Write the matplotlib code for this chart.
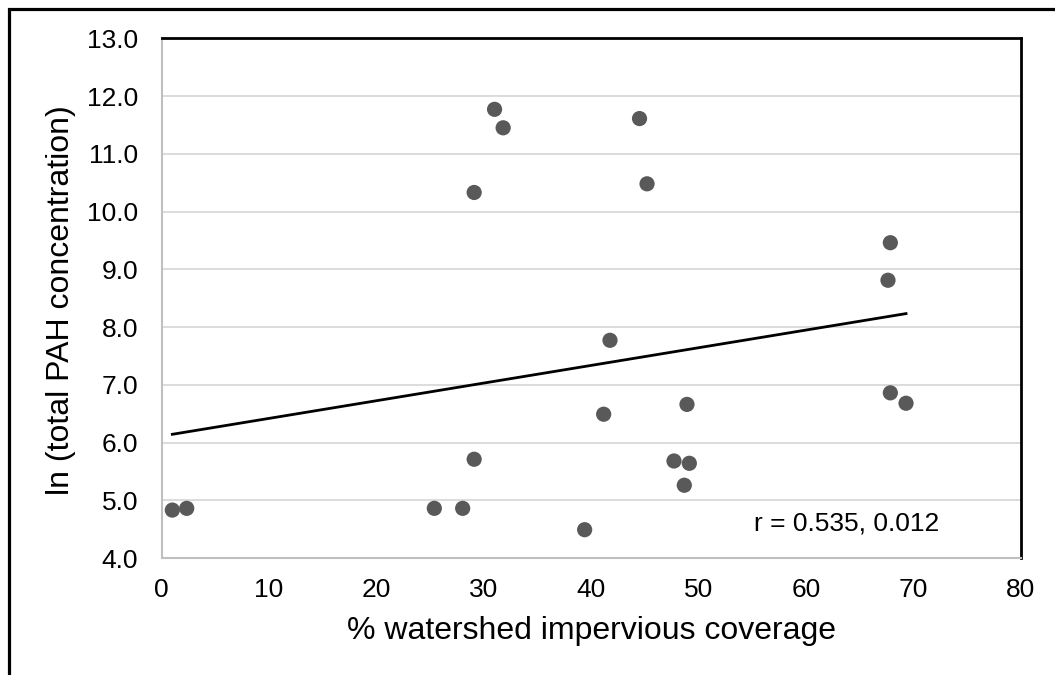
import numpy as np
import matplotlib
matplotlib.use("Agg")
import matplotlib.pyplot as plt
from matplotlib.patches import Rectangle

plt.rcParams['font.family'] = ['Liberation Sans', 'DejaVu Sans']

# Data
impervious_pct = [0.99, 2.33, 25.39, 28.03, 29.1, 29.1, 31.0, 31.8, 44.5, 45.2,
                  41.75, 41.16, 48.92, 47.71, 49.14, 48.67, 39.39, 67.86, 67.64,
                  67.86, 69.32]
ln_pah = [4.83, 4.86, 4.86, 4.86, 5.71, 10.33, 11.77, 11.45, 11.61, 10.48,
          7.77, 6.49, 6.66, 5.68, 5.64, 5.26, 4.49, 9.46, 8.81, 6.86, 6.68]
y_ticks = [4.0, 5.0, 6.0, 7.0, 8.0, 9.0, 10.0, 11.0, 12.0, 13.0]
x_ticks = [0, 10, 20, 30, 40, 50, 60, 70, 80]
stat_label = "r = 0.535, 0.012"

x = np.array(impervious_pct)
y = np.array(ln_pah)

fig = plt.figure(figsize=(10.55, 6.75), dpi=100)
ax = fig.add_axes([161.7 / 1055, 117 / 675, 859 / 1055, 519.7 / 675])

ax.set_xlim(0, 80)
ax.set_ylim(4, 13)
ax.set_xticks(x_ticks)
ax.set_yticks(y_ticks)
ax.set_yticklabels([f"{v:.1f}" for v in y_ticks])
ax.tick_params(axis='both', length=0, labelsize=19, colors='black')
ax.tick_params(axis='x', pad=14.5)
ax.tick_params(axis='y', pad=17)

ax.grid(axis='y', color='#d9d9d9', linewidth=1.3)
ax.set_axisbelow(True)

for side in ['left', 'bottom']:
    ax.spines[side].set_color('#bfbfbf')
    ax.spines[side].set_linewidth(1.5)
for side in ['top', 'right']:
    ax.spines[side].set_color('black')
    ax.spines[side].set_linewidth(2.0)

ax.scatter(x, y, s=120, color='#595959', edgecolors='none', zorder=3)

# linear trend line across the data range
slope, intercept = np.polyfit(x, y, 1)
xl = np.array([x.min(), x.max()])
ax.plot(xl, slope * xl + intercept, color='black', linewidth=2.0, zorder=2)

ax.text(55.16, 4.59, stat_label, fontsize=19, ha='left', va='center')

ax.set_xlabel("% watershed impervious coverage", fontsize=23)
ax.set_ylabel("ln (total PAH concentration)", fontsize=23)
ax.xaxis.label.set_va('center')
ax.xaxis.set_label_coords(0.5, -0.1405)
ax.yaxis.label.set_va('center')
ax.yaxis.set_label_coords(-0.117, 0.497)

# outer frame (cropped at right and bottom in the reference)
fig.patches.append(Rectangle((8.7 / 1055, -0.2), 1.5, 1.2 - 9 / 675,
                             transform=fig.transFigure, fill=False,
                             edgecolor='black', linewidth=2.3))

fig.savefig("out.png", dpi=100)
